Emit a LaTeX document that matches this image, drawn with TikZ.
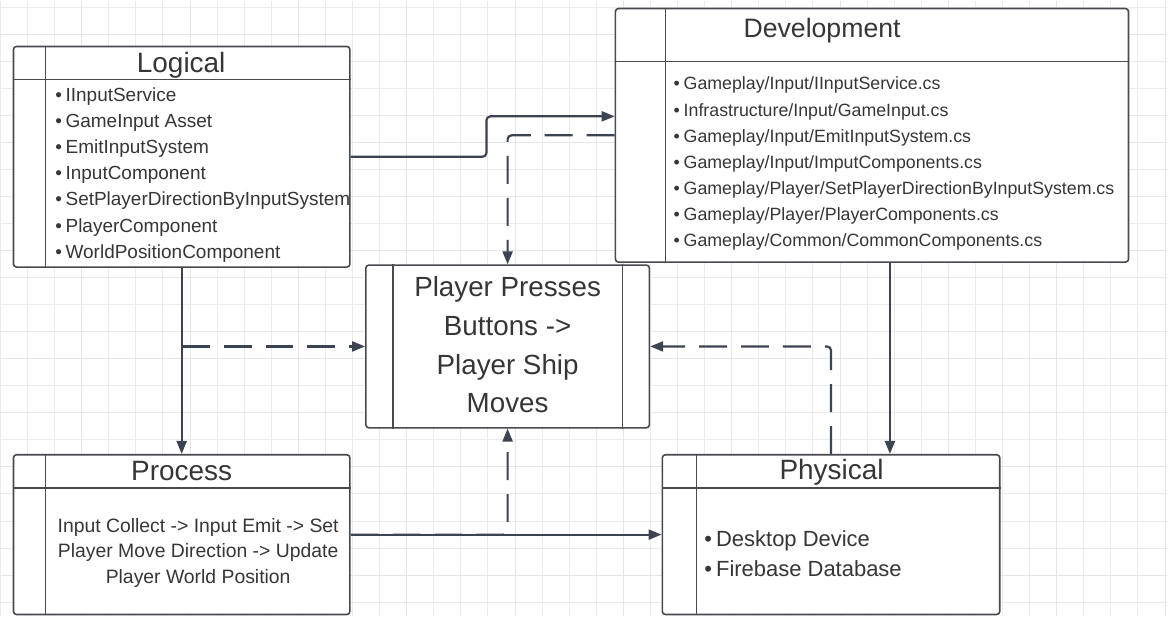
\documentclass[tikz,border=0pt]{standalone}
\usepackage{fontspec}
\setmainfont{Liberation Sans}
\usetikzlibrary{arrows.meta}

\definecolor{wire}{HTML}{3D4451}
\definecolor{frame}{HTML}{474A4F}
\definecolor{ink}{HTML}{363636}
\definecolor{gridminor}{HTML}{EBEBEB}
\definecolor{gridmajor}{HTML}{E5E5E5}

\newcommand{\bitem}[1][4pt]{\textbullet\hspace{#1}}

\begin{document}
\begin{tikzpicture}[x=1pt,y=-1pt]
                \tikzstyle{every node}+=[inner sep=0pt, text=ink]
                \tikzstyle{box}=[draw=frame, line width=1.6pt, fill=white, rounded corners=3pt]
                \tikzstyle{divider}=[draw=frame, line width=1.4pt]
                \tikzstyle{title}=[anchor=base, font=\fontsize{28}{34}\selectfont]
                \tikzstyle{items}=[anchor=base west, align=left, font=\fontsize{19}{26.1}\selectfont]
                \tikzstyle{link}=[draw=wire, line width=2.2pt, rounded corners=4pt, -{Triangle[length=13pt,width=10pt]}]
                \tikzstyle{dashlink}=[link, dash pattern=on 28pt off 14pt]
                % paper and grid
                \fill [white] (0,0) rectangle (1168,617);
                \foreach \k in {0,...,43}
                  \draw [gridminor, line width=1pt] ({27.13*\k-1},0) -- ({27.13*\k-1},617);
                \foreach \k in {0,...,22}
                  \draw [gridminor, line width=1pt] (0,{6.5+27.1*\k}) -- (1168,{6.5+27.1*\k});
                \foreach \k in {3,7,...,43}
                  \draw [gridmajor, line width=1.1pt] ({27.13*\k-1},0) -- ({27.13*\k-1},617);
                \foreach \k in {1,5,...,21}
                  \draw [gridmajor, line width=1.1pt] (0,{6.5+27.1*\k}) -- (1168,{6.5+27.1*\k});
                \useasboundingbox (0,0) rectangle (1168,617);
                % boxes
                \node [box, minimum width=337pt, minimum height=221pt] (logical) at (180.5,156.5) {};
                \draw [divider] ([xshift=33pt]logical.north west) -- ([xshift=33pt]logical.south west);
                \draw [divider] ([yshift=-34pt]logical.north west) -- ([yshift=-34pt]logical.north east);
                \node [box, minimum width=514pt, minimum height=254pt] (development) at (872,135) {};
                \draw [divider] ([xshift=51pt]development.north west) -- ([xshift=51pt]development.south west);
                \draw [divider] ([yshift=-54pt]development.north west) -- ([yshift=-54pt]development.north east);
                \node [box, minimum width=284pt, minimum height=163pt] (centre) at (507,346.5) {};
                \draw [divider] ([xshift=28pt]centre.north west) -- ([xshift=28pt]centre.south west);
                \draw [divider] ([xshift=-28pt]centre.north east) -- ([xshift=-28pt]centre.south east);
                \node [box, minimum width=337pt, minimum height=160pt] (process) at (180.5,535) {};
                \draw [divider] ([xshift=33pt]process.north west) -- ([xshift=33pt]process.south west);
                \draw [divider] ([yshift=-34pt]process.north west) -- ([yshift=-34pt]process.north east);
                \node [box, minimum width=338pt, minimum height=160pt] (physical) at (831,535) {};
                \draw [divider] ([xshift=35pt]physical.north west) -- ([xshift=35pt]physical.south west);
                \draw [divider] ([yshift=-34pt]physical.north west) -- ([yshift=-34pt]physical.north east);
                % texts (multi-line nodes sit on their last baseline)
                \node [title] (logicaltitle) at (180,72.3) {Logical};
                \node [items] (logicalitems) at (53.7,258) {\bitem[3.7pt]IInputService\\
                  \bitem[3.7pt]GameInput Asset\\ \bitem[3.7pt]EmitInputSystem\\ \bitem[3.7pt]InputComponent\\
                  \bitem[3.7pt]SetPlayerDirectionByInputSystem\\ \bitem[3.7pt]PlayerComponent\\
                  \bitem[3.7pt]WorldPositionComponent};
                \node [title, font=\fontsize{26.7}{32}\selectfont] (devtitle) at (822,37) {Development};
                \node [items, font=\fontsize{17.8}{26.2}\selectfont] (devitems) at (673,246.7) {\bitem Gameplay/Input/IInputService.cs\\
                  \bitem Infrastructure/Input/GameInput.cs\\ \bitem Gameplay/Input/EmitInputSystem.cs\\
                  \bitem Gameplay/Input/ImputComponents.cs\\ \bitem Gameplay/Player/SetPlayerDirectionByInputSystem.cs\\
                  \bitem Gameplay/Player/PlayerComponents.cs\\ \bitem Gameplay/Common/CommonComponents.cs};
                \node [title, align=center, font=\fontsize{27.8}{38.8}\selectfont] (centretext) at (507,413) {Player Presses\\ Buttons ->\\ Player Ship\\ Moves};
                \node [title] (processtitle) at (180.5,480.7) {Process};
                \node [title, align=center, font=\fontsize{19.4}{25.65}\selectfont] (processtext) at (197,584) {Input Collect -> Input Emit -> Set\\ Player Move Direction -> Update\\ Player World Position};
                \node [title] (physicaltitle) at (831.5,480) {Physical};
                \node [items, font=\fontsize{22}{29.4}\selectfont] (physicalitems) at (704,576.7) {\bitem Desktop Device\\ \bitem Firebase Database};
                % connectors
                \draw [link] (logical.east) -- ++(136,0) |- ([yshift=19pt]development.west);
                \draw [dashlink] (development.west) -| (centre.north);
                \draw [link] (logical.south) -- (process.north);
                \draw [dashlink] (logical.south |- centre.west) -- (centre.west);
                \draw [link] (process.east) -- (physical.west);
                \draw [dashlink] (process.east) -| (centre.south);
                \draw [link] ([xshift=18pt]development.south) -- ([xshift=18pt]development.south |- physical.north);
                \draw [dashlink] (physical.north) |- (centre.east);
              \end{tikzpicture}
\end{document}
